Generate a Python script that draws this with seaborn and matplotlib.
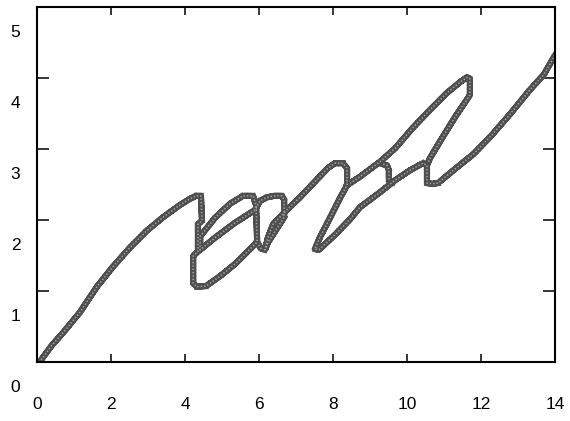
import matplotlib
matplotlib.use("Agg")
import numpy as np
import pandas as pd
import seaborn as sns
import matplotlib.pyplot as plt
import matplotlib.patheffects as pe
from matplotlib.transforms import ScaledTranslation

sns.set_style("ticks")
plt.rcParams['font.family'] = ['Liberation Sans', 'DejaVu Sans']

# ---- data ----
# main stroke: rising arc, first loops, middle loop, lower line, final rise
main_x = [0.11, 0.41, 0.70, 1.16, 1.62, 2.05, 2.51, 2.97, 3.41, 3.86, 4.14, 4.30,
          4.43, 4.46, 4.35, 4.35, 4.22, 4.22, 4.32, 4.57,
          4.95, 5.35, 5.70, 5.95, 5.92, 5.84, 5.57,
          5.22, 4.81, 4.41, 4.41,
          4.81, 5.35, 5.89, 6.03, 6.22, 6.41, 6.62,
          6.68, 6.68, 6.46, 6.24, 6.16,
          6.24, 6.38, 6.73, 7.11, 7.51, 7.86, 8.05, 8.27, 8.38, 8.38,
          8.19, 7.92, 7.65, 7.51, 7.62,
          8.05, 8.46, 8.73, 9.27, 9.68, 10.08, 10.43, 10.54, 10.54, 10.68, 10.84,
          11.30, 11.80, 12.30, 12.80, 13.30, 13.70, 14.00]
main_y = [0.03, 0.24, 0.41, 0.70, 1.06, 1.34, 1.61, 1.85, 2.04, 2.21, 2.30, 2.34,
          2.34, 1.99, 1.94, 1.56, 1.49, 1.11, 1.06, 1.07,
          1.21, 1.38, 1.56, 1.69, 2.21, 2.34, 2.34,
          2.23, 2.03, 1.77, 1.58,
          1.75, 1.96, 2.14, 2.27, 2.32, 2.34, 2.34,
          2.28, 2.04, 1.86, 1.68, 1.58,
          1.75, 1.94, 2.13, 2.32, 2.54, 2.73, 2.80, 2.80, 2.73, 2.49,
          2.31, 2.03, 1.76, 1.59, 1.58,
          1.79, 2.01, 2.18, 2.39, 2.56, 2.70, 2.80, 2.77, 2.52, 2.51, 2.52,
          2.72, 2.93, 3.20, 3.50, 3.82, 4.05, 4.32]

# big upper loop
loop_x = [8.38, 8.73, 9.27, 9.68, 10.16, 10.62, 11.08, 11.43, 11.62, 11.70,
          11.70, 11.30, 10.92, 10.62, 10.54]
loop_y = [2.49, 2.61, 2.82, 3.01, 3.30, 3.55, 3.79, 3.94, 4.01, 3.99,
          3.76, 3.45, 3.13, 2.87, 2.77]

# small bump on the middle line
bump_x = [9.27, 9.46, 9.51, 9.51, 9.62]
bump_y = [2.80, 2.77, 2.70, 2.56, 2.53]

# short link at the first V
link_x = [5.95, 6.05, 6.16]
link_y = [1.69, 1.60, 1.58]

x_ticks = [0, 2, 4, 6, 8, 10, 12, 14]
y_ticks = [0, 1, 2, 3, 4, 5]

strokes = [("main", main_x, main_y), ("loop", loop_x, loop_y),
           ("bump", bump_x, bump_y), ("link", link_x, link_y)]
df = pd.concat([pd.DataFrame({"x": xs, "y": ys, "stroke": name})
                for name, xs, ys in strokes], ignore_index=True)

fig = plt.figure(figsize=(5.7, 4.21), dpi=100)
ax = fig.add_axes([37/570, 59/421, 518/570, 355/421])

sns.lineplot(data=df, x="x", y="y", units="stroke", estimator=None, sort=False,
             color="#a6a6a6", linewidth=1.1, ax=ax, legend=False)
for ln in ax.get_lines():
    ln.set_dashes([0.9, 1.3])
    ln.set_solid_joinstyle("miter")
    ln.set_path_effects([pe.Stroke(linewidth=4.4, foreground="#4f4f4f",
                                   joinstyle="miter", capstyle="projecting"),
                         pe.Normal()])

ax.set_xlim(0, 14)
ax.set_ylim(0, 5)
ax.set_xticks(x_ticks)
ax.set_yticks(y_ticks)
ax.set_xticklabels([str(v) for v in x_ticks])
ax.set_yticklabels([str(v) for v in y_ticks])
ax.set_xlabel("")
ax.set_ylabel("")

for s in ax.spines.values():
    s.set_visible(True)
    s.set_linewidth(1.5)
    s.set_color("black")

ax.tick_params(axis="x", direction="in", top=True, bottom=True, length=5.8,
               width=1.1, pad=25.5, labelsize=12.5, colors="black")
ax.tick_params(axis="y", direction="in", left=True, right=True, length=8.3,
               width=1.1, pad=12.0, labelsize=12.5, colors="black")

off = ScaledTranslation(0, -17.2/72, fig.dpi_scale_trans)
for lab in ax.get_yticklabels():
    lab.set_transform(lab.get_transform() + off)

fig.savefig("out.png", dpi=100, facecolor="white")
